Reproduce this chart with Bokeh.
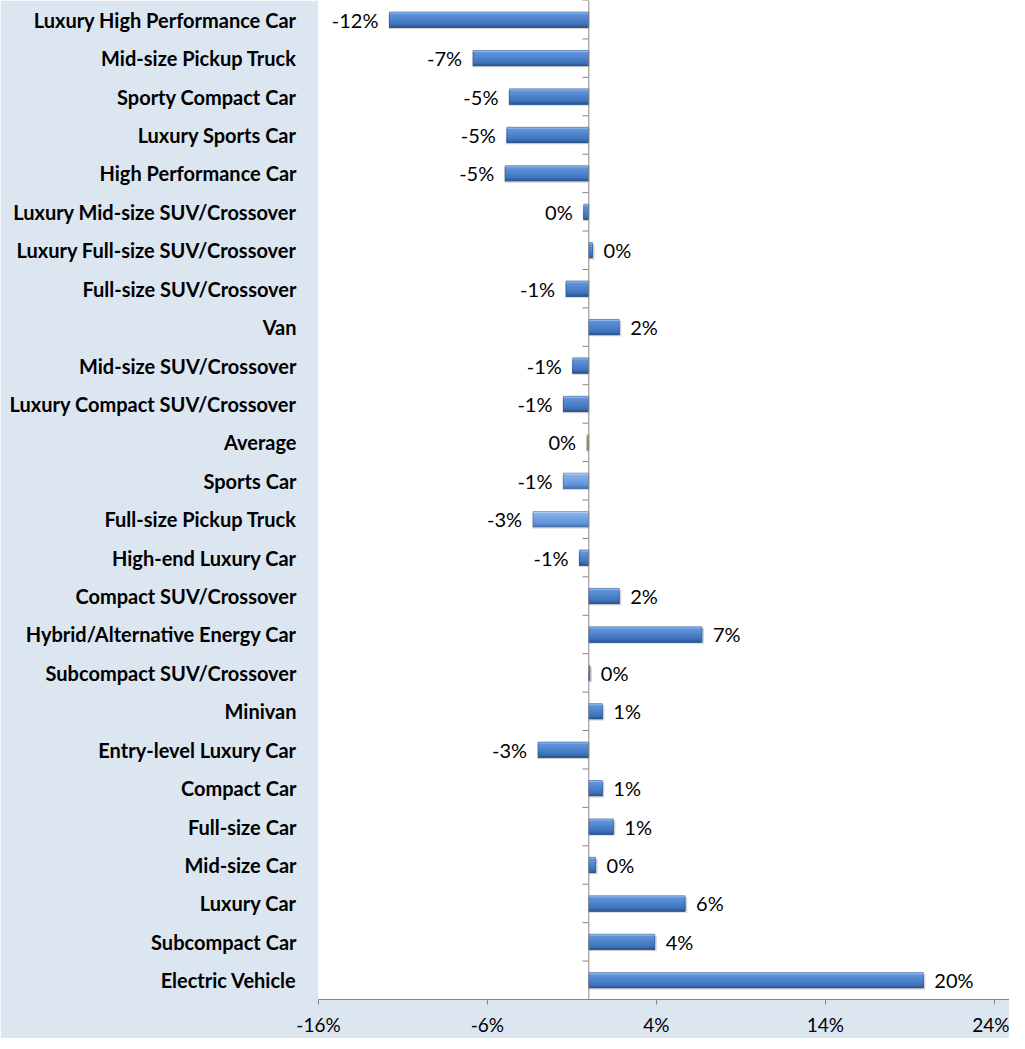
import numpy as np
from bokeh.plotting import figure
from bokeh.models import ColumnDataSource, Range1d, FixedTicker, PrintfTickFormatter, Span
from bokeh.core.properties import value
from bokeh.embed import file_html
from bokeh.resources import INLINE

categories = ["Luxury High Performance Car", "Mid-size Pickup Truck", "Sporty Compact Car",
              "Luxury Sports Car", "High Performance Car", "Luxury Mid-size SUV/Crossover",
              "Luxury Full-size SUV/Crossover", "Full-size SUV/Crossover", "Van",
              "Mid-size SUV/Crossover", "Luxury Compact SUV/Crossover", "Average", "Sports Car",
              "Full-size Pickup Truck", "High-end Luxury Car", "Compact SUV/Crossover",
              "Hybrid/Alternative Energy Car", "Subcompact SUV/Crossover", "Minivan",
              "Entry-level Luxury Car", "Compact Car", "Full-size Car", "Mid-size Car",
              "Luxury Car", "Subcompact Car", "Electric Vehicle"]
values = [-11.8, -6.85, -4.7, -4.85, -4.95, -0.3, 0.22, -1.35, 1.8, -0.95, -1.5, -0.1, -1.5,
          -3.3, -0.55, 1.8, 6.7, 0.06, 0.8, -3.0, 0.8, 1.45, 0.4, 5.7, 3.9, 19.8]
labels = ["-12%", "-7%", "-5%", "-5%", "-5%", "0%", "0%", "-1%", "2%", "-1%", "-1%", "0%", "-1%",
          "-3%", "-1%", "2%", "7%", "0%", "1%", "-3%", "1%", "1%", "0%", "6%", "4%", "20%"]
x_ticks = [-16, -6, 4, 14, 24]
# bar colour style: 0 normal blue, 1 light blue, 2 tan
styles = [0, 0, 0, 0, 0, 0, 0, 0, 0, 0, 0, 2, 1, 1, 0, 0, 0, 0, 0, 0, 0, 0, 0, 0, 0, 0]

n = len(categories)
ys = [n - 1 - i for i in range(n)]

BG = "#dce6f1"
p = figure(frame_width=691, frame_height=999, output_backend="svg", toolbar_location=None,
           x_range=Range1d(-16, 24.9), y_range=Range1d(-0.5, n - 0.5),
           min_border_left=318, min_border_right=0, min_border_top=0, min_border_bottom=34,
           background_fill_color="white", border_fill_color=BG)
p.outline_line_color = None
p.grid.visible = False


def hex2rgb(h):
    return np.array([int(h[i:i + 2], 16) for i in (1, 3, 5)], dtype=float)


def mix(a, b, t):
    c = hex2rgb(a) * (1 - t) + hex2rgb(b) * t
    return "#%02x%02x%02x" % tuple(int(round(v)) for v in c)


# gradient stops (top, upper, lower, bottom) per colour style
stops = {
    0: ["#a9cbf3", "#5f94dc", "#3f73bb", "#2a5189"],
    1: ["#c6dcf7", "#84b1ea", "#5f91d6", "#456fa8"],
    2: ["#e0cda6", "#c7ab7a", "#ad905c", "#8a7044"],
}
BAR_H = 0.40
NSTRIP = 10
step = BAR_H / NSTRIP


def strip_color(style, t):
    s = stops[style]
    if t < 0.15:
        return mix(s[0], s[1], t / 0.15)
    if t < 0.8:
        return mix(s[1], s[2], (t - 0.15) / 0.65)
    return mix(s[2], s[3], (t - 0.8) / 0.2)


# shadow
sh = ColumnDataSource(dict(y=[y - 0.04 for y in ys], left=[0] * n,
                           right=[v + (0.12 if v >= 0 else -0.06) for v in values]))
p.hbar(y="y", height=BAR_H, left="left", right="right", source=sh,
       fill_color="#7f7f7f", fill_alpha=0.35, line_color=None)

# gradient: each layer spans from its top down to the bar bottom (no seams)
for k in range(NSTRIP):
    t = (k + 0.5) / NSTRIP
    h = BAR_H - k * step
    centre_off = -BAR_H / 2 + h / 2
    src = ColumnDataSource(dict(y=[y + centre_off for y in ys], left=[0] * n, right=values,
                                color=[strip_color(s, t) for s in styles]))
    p.hbar(y="y", height=h, left="left", right="right", source=src,
           fill_color="color", line_color=None)

# thin outline
ol = ColumnDataSource(dict(y=ys, left=[0] * n, right=values,
                           color=[stops[s][3] for s in styles]))
p.hbar(y="y", height=BAR_H, left="left", right="right", source=ol,
       fill_color=None, line_color="color", line_width=0.8, line_alpha=0.7)

# zero axis with category tick marks
p.add_layout(Span(location=0, dimension="height", line_color="#868686", line_width=1))
bounds = np.arange(-0.5, n, 1.0)
p.segment(x0=[-0.38] * len(bounds), x1=[0] * len(bounds), y0=bounds, y1=bounds,
          line_color="#868686", line_width=1)

# data labels
neg = [i for i in range(n) if values[i] < 0]
pos = [i for i in range(n) if values[i] >= 0]
p.text(x=[values[i] for i in neg], y=[ys[i] for i in neg], text=[labels[i] for i in neg],
       text_align="right", text_baseline="middle", x_offset=-11,
       text_font=value("Lato"), text_font_size="20px", text_color="#000000")
p.text(x=[values[i] for i in pos], y=[ys[i] for i in pos], text=[labels[i] for i in pos],
       text_align="left", text_baseline="middle", x_offset=11,
       text_font=value("Lato"), text_font_size="20px", text_color="#000000")

# left axis: category names
ya = p.yaxis[0]
ya.ticker = FixedTicker(ticks=ys)
ya.major_label_overrides = {y: c for y, c in zip(ys, categories)}
ya.axis_line_color = None
ya.major_tick_line_color = None
ya.minor_tick_line_color = None
ya.major_label_standoff = 16
ya.major_label_text_font = "Lato"
ya.major_label_text_font_style = "bold"
ya.major_label_text_font_size = "20px"
ya.major_label_text_color = "#000000"

# bottom axis
xa = p.xaxis[0]
xa.ticker = FixedTicker(ticks=x_ticks)
xa.formatter = PrintfTickFormatter(format="%d%%")
xa.axis_line_color = "#868686"
xa.major_tick_line_color = "#868686"
xa.major_tick_out = 5
xa.major_tick_in = 0
xa.minor_tick_line_color = None
xa.major_label_standoff = 8
xa.major_label_text_font = "Lato"
xa.major_label_text_font_size = "19px"
xa.major_label_text_color = "#000000"

open("out.html", "w").write(file_html(p, INLINE))
